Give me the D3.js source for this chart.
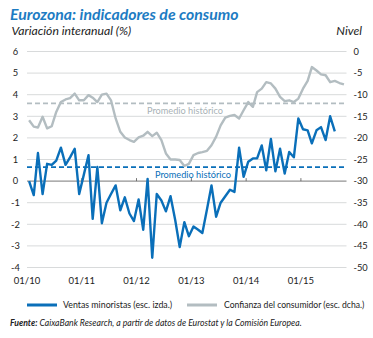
<!DOCTYPE html>
<html>
<head>
<meta charset="utf-8">
<script src="https://cdn.jsdelivr.net/npm/d3@7"></script>
<style>
  html, body { margin: 0; padding: 0; background: #fff; }
  svg { display: block; font-family: Lato, "Noto Sans", sans-serif; }
</style>
</head>
<body>
<svg id="chart" width="373" height="338"></svg>
<script>
// Retail sales, year-on-year % change (left axis), monthly from Jan 2010
const ventasMinoristas = [
  0.0, -0.65, 1.3, -0.6, 0.8, 0.75, 0.95, 1.55, 0.75, 1.1, 1.5, -0.6,
  0.3, 1.2, -1.75, 0.65, -1.95, -1.0, -0.6, -0.2, -1.35, -0.75, -1.5, -1.85,
  -0.85, -2.25, 0.1, -3.55, -0.6, -0.9, -1.4, -0.7, -1.8, -3.05, -1.9, -2.55,
  -2.1, -2.25, -2.4, -1.3, -0.2, -1.65, -1.0, -0.7, -0.4, -0.5, 1.55, 0.2,
  0.9, 1.05, 1.05, 1.65, 0.5, 1.95, 0.45, 1.5, 0.35, 1.35, 1.1, 2.9,
  2.4, 2.35, 1.75, 2.35, 2.5, 1.9, 3.0, 2.3
];
// Consumer confidence level (right axis), monthly from Jan 2010
const confianzaConsumidor = [
  -15.9, -17.4, -17.6, -15.1, -17.8, -17.3, -14.0, -11.7, -11.1, -10.8, -9.75, -11.3,
  -11.3, -10.1, -10.7, -11.7, -10.0, -9.75, -11.3, -15.5, -18.6, -19.9, -20.5, -20.9,
  -19.9, -19.5, -18.6, -19.6, -18.8, -20.5, -23.6, -25.0, -25.0, -25.1, -26.5, -26.0,
  -24.0, -23.5, -23.3, -23.0, -21.7, -19.7, -17.1, -15.3, -14.9, -14.7, -15.5, -13.6,
  -11.7, -12.8, -9.4, -8.6, -7.1, -7.4, -8.6, -10.5, -11.5, -11.3, -11.7, -10.9,
  -8.6, -6.8, -3.6, -4.4, -5.3, -5.5, -7.1, -6.8, -7.3, -7.6
];
// Historical averages
const promedioVentas = 0.65;
const promedioConfianza = -12.0;

const leftTicks = [6, 5, 4, 3, 2, 1, 0, -1, -2, -3, -4];
const rightTicks = [0, -5, -10, -15, -20, -25, -30, -35, -40, -45, -50];
const xTickLabels = ["01/10", "01/11", "01/12", "01/13", "01/14", "01/15"];

const titulo = "Eurozona: indicadores de consumo";
const subtituloIzq = "Variación interanual (%)";
const subtituloDer = "Nivel";
const leyendaVentas = "Ventas minoristas (esc. izda.)";
const leyendaConfianza = "Confianza del consumidor (esc. dcha.)";
const etiquetaPromedio = "Promedio histórico";

const BLUE = "#0a6fb9";
const GREY = "#b3bdc1";
const TEXT = "#222";

const svg = d3.select("#chart");

const x = d3.scaleTime()
  .domain([new Date(2010, 0, 1), new Date(2015, 10, 1)])
  .range([27, 346.5]);
const yL = d3.scaleLinear().domain([-4, 6]).range([267.5, 51.5]);
const yR = d3.scaleLinear().domain([-50, 0]).range([267.5, 51.5]);

const monthDate = i => new Date(2010, i, 15);

// Title and axis captions
svg.append("text").attr("x", 10).attr("y", 19.5)
  .attr("fill", "#1d7cc3").attr("font-size", 15.8).attr("font-weight", 700)
  .attr("font-style", "italic").text(titulo);
svg.append("text").attr("x", 11.5).attr("y", 34.5)
  .attr("fill", TEXT).attr("font-size", 12.2).attr("font-style", "italic")
  .text(subtituloIzq);
svg.append("text").attr("x", 362).attr("y", 34.5).attr("text-anchor", "end")
  .attr("fill", TEXT).attr("font-size", 12.2).attr("font-style", "italic")
  .text(subtituloDer);

// Horizontal grid
const grid = svg.append("g");
grid.selectAll("line").data(leftTicks.filter(d => d !== 0)).join("line")
  .attr("x1", 27).attr("x2", 346.5)
  .attr("y1", d => yL(d)).attr("y2", d => yL(d))
  .attr("stroke", "#d8dadb").attr("stroke-width", 1);

// Left axis labels
svg.append("g").selectAll("text").data(leftTicks).join("text")
  .attr("x", 15.5).attr("y", d => yL(d) + 3.3)
  .attr("text-anchor", "middle").attr("font-size", 9.3).attr("fill", TEXT)
  .text(d => d);

// Right axis labels
svg.append("g").selectAll("text").data(rightTicks).join("text")
  .attr("x", 353.5).attr("y", d => yR(d) + 3.3)
  .attr("font-size", 9.3).attr("fill", TEXT)
  .text(d => d);

// Zero line with yearly ticks
const zeroY = yL(0);
svg.append("line").attr("x1", 27).attr("x2", 346.5)
  .attr("y1", zeroY).attr("y2", zeroY)
  .attr("stroke", "#555").attr("stroke-width", 0.8);
const years = xTickLabels.map((_, k) => new Date(2010 + k, 0, 1));
svg.append("g").selectAll("line").data(years.slice(1)).join("line")
  .attr("x1", d => x(d)).attr("x2", d => x(d))
  .attr("y1", zeroY).attr("y2", zeroY - 3)
  .attr("stroke", "#555").attr("stroke-width", 0.8);

// X labels
svg.append("g").selectAll("text").data(years).join("text")
  .attr("x", d => x(d)).attr("y", 283.5)
  .attr("text-anchor", "middle").attr("font-size", 9.5).attr("fill", TEXT)
  .text((d, k) => xTickLabels[k]);

// Historical average lines
svg.append("line").attr("x1", 27).attr("x2", 346.5)
  .attr("y1", yR(promedioConfianza)).attr("y2", yR(promedioConfianza))
  .attr("stroke", GREY).attr("stroke-width", 1.8).attr("stroke-dasharray", "5,3");
svg.append("line").attr("x1", 27).attr("x2", 346.5)
  .attr("y1", yL(promedioVentas)).attr("y2", yL(promedioVentas))
  .attr("stroke", BLUE).attr("stroke-width", 1.8).attr("stroke-dasharray", "5,3");
svg.append("text").attr("x", 147).attr("y", yR(promedioConfianza) + 11)
  .attr("font-size", 9.2).attr("fill", "#a9b2b6").text(etiquetaPromedio);
svg.append("text").attr("x", 155).attr("y", yL(promedioVentas) + 10.5)
  .attr("font-size", 9.2).attr("fill", BLUE).text(etiquetaPromedio);

// Series lines
const lineR = d3.line().x((d, i) => x(monthDate(i))).y(d => yR(d));
const lineL = d3.line().x((d, i) => x(monthDate(i))).y(d => yL(d));
svg.append("path").datum(confianzaConsumidor).attr("d", lineR)
  .attr("fill", "none").attr("stroke", GREY).attr("stroke-width", 2.4)
  .attr("stroke-linejoin", "round");
svg.append("path").datum(ventasMinoristas).attr("d", lineL)
  .attr("fill", "none").attr("stroke", BLUE).attr("stroke-width", 2.4)
  .attr("stroke-linejoin", "round");

// Legend
const lg = svg.append("g");
lg.append("line").attr("x1", 27).attr("x2", 57).attr("y1", 305).attr("y2", 305)
  .attr("stroke", BLUE).attr("stroke-width", 3);
lg.append("text").attr("x", 63).attr("y", 308).attr("font-size", 8.8).attr("fill", TEXT)
  .text(leyendaVentas);
lg.append("line").attr("x1", 187).attr("x2", 217).attr("y1", 305).attr("y2", 305)
  .attr("stroke", GREY).attr("stroke-width", 3);
lg.append("text").attr("x", 224).attr("y", 308).attr("font-size", 8.6).attr("fill", TEXT)
  .text(leyendaConfianza);

// Source note
const src = svg.append("text").attr("x", 10).attr("y", 325.5)
  .attr("font-size", 8.7).attr("font-style", "italic").attr("fill", TEXT);
src.append("tspan").attr("font-weight", 700).text("Fuente:");
src.append("tspan").text(" CaixaBank Research, a partir de datos de Eurostat y la Comisión Europea.");
</script>
</body>
</html>
